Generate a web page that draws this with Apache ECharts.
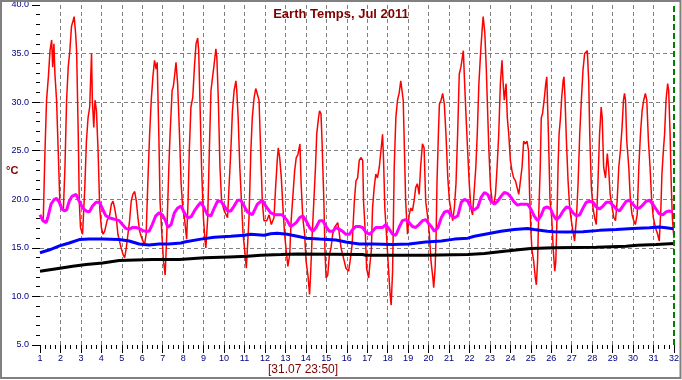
<!DOCTYPE html>
<html>
<head>
<meta charset="utf-8">
<script src="https://cdn.jsdelivr.net/npm/echarts@6/dist/echarts.min.js"></script>
<style>
html,body{margin:0;padding:0;background:#fff;}
#chart{width:682px;height:380px;}
</style>
</head>
<body>
<div id="chart"></div>
<script>
// ---- data (day of month, °C) ----
const titleText = "Earth Temps, Jul 2011";
const yUnit = "°C";
const xNote = "[31.07 23:50]";

const redTemps = [
[1.00,18.4],[1.16,17.9],[1.24,24.7],[1.32,30.2],[1.41,32.6],[1.49,35.3],[1.57,36.4],[1.62,33.6],[1.68,36.0],[1.73,32.9],[1.81,30.2],[1.89,25.0],[1.97,19.8],[2.06,19.1],[2.14,18.8],
[2.22,23.3],[2.30,30.2],[2.38,33.6],[2.46,35.3],[2.54,37.8],[2.62,38.4],[2.67,38.8],[2.74,37.1],[2.79,35.3],[2.87,26.7],[2.92,19.8],[2.98,17.1],[3.08,16.4],
[3.19,21.2],[3.27,26.0],[3.35,28.4],[3.43,29.5],[3.52,35.0],[3.56,30.2],[3.63,27.4],[3.69,30.2],[3.76,29.1],[3.84,25.0],[3.92,19.1],[4.00,17.1],[4.08,16.4],
[4.16,16.7],[4.28,17.8],[4.41,18.4],[4.49,19.5],[4.57,19.8],[4.65,19.1],[4.73,18.1],[4.81,16.4],[4.93,15.3],[5.06,14.3],[5.14,14.0],[5.22,15.0],[5.30,16.4],
[5.38,17.8],[5.46,19.8],[5.54,20.5],[5.63,20.8],[5.71,19.8],[5.79,18.1],[5.87,16.7],[5.98,16.0],[6.11,15.3],
[6.19,16.4],[6.27,21.6],[6.36,26.7],[6.44,30.2],[6.52,32.6],[6.60,34.3],[6.68,33.4],[6.73,34.1],[6.81,26.7],[6.87,19.8],[6.96,16.4],[7.04,13.6],[7.12,12.2],
[7.20,16.4],[7.30,23.3],[7.36,26.7],[7.46,31.2],[7.52,31.6],[7.59,32.9],[7.65,34.1],[7.73,31.9],[7.82,26.7],[7.90,21.6],[7.98,19.1],[8.06,18.1],[8.17,15.9],
[8.24,19.8],[8.30,25.0],[8.38,29.5],[8.47,30.5],[8.55,33.6],[8.63,36.0],[8.71,36.6],[8.76,35.3],[8.82,30.2],[8.90,23.3],[8.99,18.1],[9.07,15.7],[9.11,15.0],
[9.20,18.1],[9.28,25.0],[9.36,31.2],[9.44,32.6],[9.52,34.0],[9.60,35.5],[9.65,34.5],[9.72,30.2],[9.80,23.3],[9.88,19.8],[10.01,18.8],[10.17,18.1],
[10.25,21.6],[10.33,25.0],[10.41,29.1],[10.49,31.2],[10.58,32.2],[10.62,31.2],[10.69,28.4],[10.77,23.3],[10.85,19.8],[10.93,16.4],[11.03,14.3],[11.09,12.9],
[11.22,18.1],[11.31,25.0],[11.38,28.4],[11.47,30.5],[11.55,31.4],[11.63,31.4],[11.71,30.2],[11.79,25.0],[11.87,19.8],[11.95,17.8],
[12.09,17.8],[12.20,18.4],[12.31,17.4],[12.44,18.1],[12.52,21.2],[12.60,24.0],[12.65,25.3],[12.72,24.3],[12.80,22.2],[12.88,19.1],[12.96,16.4],[13.04,14.7],[13.12,13.1],
[13.21,14.3],[13.28,17.8],[13.37,20.5],[13.45,22.9],[13.53,24.3],[13.61,24.6],[13.71,25.7],[13.77,21.5],[13.85,18.1],[13.94,16.4],[14.01,13.6],[14.10,12.2],[14.18,10.2],
[14.23,12.2],[14.31,16.4],[14.39,19.8],[14.47,23.3],[14.53,26.7],[14.62,28.4],[14.67,29.1],[14.74,28.8],[14.79,26.0],[14.88,19.8],[14.94,14.3],[14.99,11.9],
[15.07,12.2],[15.15,14.3],[15.23,15.0],[15.31,16.4],[15.40,17.1],[15.48,17.2],[15.56,17.6],[15.64,16.4],[15.72,15.0],[15.80,14.3],[15.96,12.9],[16.09,12.6],
[16.16,13.6],[16.26,15.3],[16.37,19.8],[16.45,21.9],[16.53,22.2],[16.61,24.0],[16.69,24.3],[16.78,24.0],[16.82,19.8],[16.91,16.4],[16.97,12.9],[17.07,11.9],
[17.13,13.3],[17.20,14.7],[17.26,19.1],[17.34,21.2],[17.42,22.6],[17.50,22.2],[17.59,23.3],[17.67,25.0],[17.75,26.7],[17.80,24.0],[17.86,19.1],[17.94,16.4],[18.04,12.9],[18.12,10.2],[18.17,9.1],
[18.24,12.6],[18.27,16.4],[18.32,23.3],[18.40,28.4],[18.48,30.2],[18.56,30.9],[18.64,32.2],[18.69,32.4],[18.76,30.2],[18.82,25.0],[18.88,19.8],[18.97,16.4],
[19.05,18.4],[19.13,19.1],[19.21,18.8],[19.29,19.8],[19.37,21.2],[19.45,21.6],[19.54,20.5],[19.61,23.3],[19.70,25.7],[19.78,25.3],[19.86,19.8],[19.96,18.1],
[20.04,16.4],[20.12,13.6],[20.21,11.9],[20.25,10.9],[20.32,12.9],[20.37,16.4],[20.41,21.6],[20.48,26.7],[20.53,29.8],[20.61,30.2],[20.69,30.9],[20.77,29.8],[20.85,26.7],[20.94,22.2],[21.02,19.8],[21.10,18.8],[21.18,17.8],
[21.26,19.1],[21.34,21.6],[21.42,26.7],[21.50,32.9],[21.58,33.6],[21.63,34.3],[21.70,35.3],[21.75,32.6],[21.82,29.1],[21.91,25.0],[21.99,21.6],[22.07,19.1],[22.15,18.4],[22.23,18.4],
[22.31,23.3],[22.38,26.7],[22.46,31.9],[22.55,35.3],[22.63,37.8],[22.67,38.8],[22.75,37.1],[22.82,33.6],[22.87,30.2],[22.95,25.0],[23.03,21.2],[23.11,19.8],[23.19,19.5],
[23.27,20.5],[23.35,23.3],[23.43,26.7],[23.51,31.9],[23.59,34.3],[23.64,32.2],[23.70,30.2],[23.79,31.9],[23.85,28.4],[23.92,26.7],[24.00,24.0],[24.08,22.9],[24.16,22.2],[24.25,21.9],[24.33,21.2],[24.41,20.5],
[24.49,21.9],[24.57,23.3],[24.65,26.0],[24.73,25.7],[24.81,26.0],[24.89,25.0],[24.94,20.5],[25.01,16.4],[25.06,14.7],[25.14,13.6],[25.22,11.9],[25.27,11.2],[25.33,13.6],
[25.38,18.1],[25.46,23.3],[25.51,28.4],[25.57,28.8],[25.65,30.2],[25.73,31.9],[25.78,32.6],[25.86,26.7],[25.94,19.8],[26.02,18.1],[26.10,14.7],
[26.17,12.6],[26.22,13.6],[26.28,18.1],[26.33,23.3],[26.38,26.7],[26.45,28.4],[26.51,30.5],[26.58,32.2],[26.62,32.6],[26.67,30.5],[26.74,26.0],[26.82,21.9],[26.90,19.1],[26.98,17.8],[27.06,16.7],[27.14,15.7],
[27.23,18.1],[27.31,21.6],[27.39,26.7],[27.47,30.2],[27.55,33.3],[27.63,35.0],[27.71,35.2],[27.76,35.3],[27.83,32.2],[27.88,26.7],[27.96,21.2],[28.04,19.1],[28.12,18.1],[28.20,17.4],
[28.28,21.6],[28.36,26.7],[28.44,29.5],[28.49,28.4],[28.56,23.3],[28.65,22.2],[28.74,24.7],[28.80,23.3],[28.88,20.5],[28.98,19.1],[29.06,18.1],[29.14,17.8],
[29.22,19.8],[29.30,23.3],[29.38,25.0],[29.46,27.4],[29.53,30.2],[29.58,30.9],[29.63,30.2],[29.69,26.0],[29.79,23.3],[29.87,19.8],[29.95,18.4],[30.03,17.8],[30.11,17.4],
[30.20,18.4],[30.28,23.3],[30.36,26.7],[30.44,29.1],[30.52,30.2],[30.60,30.9],[30.67,30.2],[30.75,26.0],[30.83,23.3],[30.91,19.8],[30.99,18.1],[31.09,17.1],[31.20,16.4],[31.28,15.7],
[31.36,19.1],[31.41,22.6],[31.48,25.0],[31.54,26.7],[31.61,30.2],[31.69,31.9],[31.74,31.2],[31.81,26.7],[31.87,21.2],[31.92,18.1],[31.97,16.7],[32.00,16.0]
];

const magentaTemps = [
[1.00,18.4],[1.14,17.8],[1.30,17.6],[1.38,18.1],[1.54,19.5],[1.70,20.0],[1.81,20.1],[1.94,19.7],[2.07,19.0],[2.19,18.8],[2.30,18.9],[2.43,19.8],[2.56,20.3],[2.76,20.5],[2.92,19.8],[3.09,19.1],[3.25,18.8],[3.41,18.7],[3.57,19.3],[3.74,19.7],[3.90,19.7],[4.06,19.0],[4.22,18.3],[4.38,18.1],[4.55,18.0],[4.71,17.9],[4.87,17.8],[5.03,17.4],[5.20,17.0],[5.36,16.9],[5.52,17.1],[5.68,17.1],[5.85,17.0],[6.01,16.8],[6.17,16.7],[6.33,16.7],[6.49,17.4],[6.66,18.3],[6.82,18.6],[6.98,18.4],[7.14,17.8],[7.25,17.1],[7.41,17.4],[7.57,18.6],[7.73,19.1],[7.90,19.3],[8.06,18.6],[8.22,18.1],[8.39,18.2],[8.55,18.8],[8.71,19.3],[8.87,19.7],[9.03,19.1],[9.19,18.4],[9.36,18.3],[9.52,19.1],[9.68,19.8],[9.85,19.8],[10.01,19.3],[10.17,18.8],[10.33,18.8],[10.49,19.3],[10.66,19.9],[10.82,19.9],[10.98,19.3],[11.14,18.7],[11.38,18.4],[11.63,19.5],[11.87,19.9],[12.04,19.3],[12.28,18.6],[12.52,18.4],[12.85,18.4],[13.09,17.8],[13.25,17.2],[13.41,17.4],[13.53,17.6],[13.69,18.1],[13.85,18.3],[14.01,17.8],[14.18,17.1],[14.34,16.7],[14.50,17.1],[14.67,17.8],[14.83,17.8],[14.99,17.2],[15.15,16.7],[15.31,16.7],[15.47,17.1],[15.64,16.9],[15.80,16.7],[15.96,16.4],[16.13,16.4],[16.29,16.9],[16.45,17.2],[16.61,17.2],[16.77,17.1],[16.94,16.6],[17.10,16.4],[17.26,16.7],[17.42,17.1],[17.59,17.1],[17.75,17.1],[17.91,17.4],[18.08,16.9],[18.24,16.4],[18.40,16.3],[18.56,17.1],[18.72,17.8],[18.88,17.9],[19.05,17.6],[19.21,17.2],[19.37,17.1],[19.53,17.4],[19.70,17.8],[19.86,17.9],[19.97,17.6],[20.13,17.2],[20.29,16.7],[20.46,17.1],[20.62,18.1],[20.78,18.7],[20.95,18.8],[21.11,18.3],[21.27,18.1],[21.43,18.3],[21.60,19.7],[21.76,20.0],[21.92,19.8],[22.08,19.1],[22.24,18.9],[22.41,19.2],[22.57,20.2],[22.73,20.7],[22.89,20.5],[23.05,19.8],[23.22,19.5],[23.38,19.8],[23.54,20.3],[23.70,20.7],[23.86,20.6],[24.03,20.2],[24.19,19.7],[24.35,19.4],[24.51,19.5],[24.68,19.5],[24.84,19.5],[25.00,19.0],[25.16,18.3],[25.33,17.8],[25.49,18.3],[25.65,19.1],[25.81,19.2],[25.97,19.0],[26.09,18.4],[26.25,17.9],[26.41,18.2],[26.58,18.8],[26.74,19.2],[26.90,19.1],[27.06,18.6],[27.23,18.3],[27.39,18.4],[27.55,19.1],[27.71,19.7],[27.88,19.8],[28.04,19.7],[28.20,19.2],[28.36,19.0],[28.53,19.3],[28.69,19.7],[28.85,19.7],[29.01,19.4],[29.18,19.0],[29.34,18.8],[29.50,19.3],[29.66,19.8],[29.82,19.9],[29.99,19.5],[30.15,19.1],[30.31,19.1],[30.47,19.4],[30.64,19.8],[30.80,19.9],[30.96,19.5],[31.12,19.0],[31.28,18.5],[31.45,18.4],[31.61,18.7],[31.77,18.8],[31.94,18.7]
];

const blueTemps = [
[1.00,14.5],[1.47,14.8],[1.95,15.2],[2.43,15.5],[2.92,15.85],[3.41,15.9],[4.06,15.9],[4.87,15.85],[5.36,15.7],[5.85,15.4],[6.33,15.3],[6.82,15.4],[7.30,15.4],[7.90,15.5],[8.06,15.6],[8.87,15.9],[9.52,16.1],[10.33,16.2],[10.98,16.3],[11.30,16.4],[11.95,16.3],[12.28,16.45],[12.60,16.5],[13.09,16.4],[13.58,16.2],[14.01,16.0],[14.67,15.9],[15.47,15.8],[15.96,15.6],[16.61,15.4],[17.26,15.4],[18.24,15.35],[19.05,15.4],[19.86,15.6],[20.62,15.7],[21.27,15.9],[21.92,16.0],[22.24,16.2],[22.89,16.45],[23.54,16.7],[24.19,16.9],[24.84,17.0],[25.16,16.9],[25.81,16.7],[26.14,16.66],[26.74,16.62],[27.55,16.66],[28.36,16.8],[29.18,16.9],[29.99,17.0],[30.80,17.07],[31.28,17.14],[31.61,17.07],[31.97,16.97]
];

const blackTemps = [
[1.00,12.6],[1.81,12.86],[2.60,13.1],[3.25,13.28],[4.06,13.45],[4.87,13.69],[5.68,13.76],[6.49,13.79],[7.82,13.79],[9.03,13.97],[10.25,14.07],[11.14,14.14],[11.79,14.24],[12.77,14.31],[13.58,14.38],[16.77,14.31],[16.94,14.24],[19.86,14.24],[21.92,14.31],[22.73,14.41],[23.70,14.66],[24.51,14.83],[25.00,14.93],[26.14,15.0],[28.20,15.07],[29.66,15.17],[30.21,15.28],[31.12,15.34],[32.00,15.45]
];

const xRange = [1, 32];
const yRange = [5, 40];

// ---- chart ----
const chart = echarts.init(document.getElementById('chart'), null, {renderer: 'canvas'});
const navy = '#000080';
const darkRed = '#800000';
const gridDash = {color: '#808080', type: [4, 3], width: 1};

function line(name, data, color, width) {
  return {
    name: name, type: 'line', data: data, showSymbol: false, symbol: 'none',
    lineStyle: {color: color, width: width}, itemStyle: {color: color},
    animation: false, silent: true, z: 2
  };
}

const redSeries = line('Air', redTemps, '#ff0000', 1.5);
redSeries.markLine = {
  silent: true, symbol: ['none', 'none'], label: {show: false},
  lineStyle: {color: '#008000', type: [6, 3], width: 2},
  data: [{xAxis: xRange[1]}], animation: false
};

chart.setOption({
  backgroundColor: '#ffffff',
  animation: false,
  title: {
    text: titleText, left: 'center', top: 3,
    textStyle: {
      color: darkRed, fontSize: 13, fontWeight: 'bold',
      fontFamily: 'Liberation Sans, Arial, sans-serif',
      textShadowColor: '#c8a050', textShadowOffsetX: 1, textShadowOffsetY: 1, textShadowBlur: 0
    }
  },
  grid: {left: 40, right: 5, top: 5, bottom: 35, containLabel: false},
  xAxis: {
    type: 'value', min: xRange[0], max: xRange[1], interval: 1,
    axisLine: {show: false},
    axisTick: {show: true, length: 8, lineStyle: {color: '#000', width: 1}},
    minorTick: {show: true, splitNumber: 4, length: 4, lineStyle: {color: '#000', width: 1}},
    axisLabel: {color: navy, fontSize: 9, margin: 9, fontFamily: 'Liberation Sans, Arial, sans-serif'},
    splitLine: {show: true, showMinLine: false, showMaxLine: false, lineStyle: gridDash},
    minorSplitLine: {show: false}
  },
  yAxis: {
    type: 'value', min: yRange[0], max: yRange[1], interval: 5,
    axisLine: {show: false},
    axisTick: {show: true, length: 8, lineStyle: {color: '#000', width: 1}},
    minorTick: {show: true, splitNumber: 5, length: 4, lineStyle: {color: '#000', width: 1}},
    axisLabel: {color: navy, fontSize: 9, margin: 11, fontFamily: 'Liberation Sans, Arial, sans-serif',
      formatter: v => v.toFixed(1)},
    splitLine: {show: true, showMinLine: false, showMaxLine: false, lineStyle: gridDash},
    minorSplitLine: {show: false}
  },
  graphic: [
    {type: 'rect', shape: {x: 1, y: 1, width: 679.5, height: 377}, style: {fill: 'none', stroke: '#808080', lineWidth: 2}, silent: true, z: 100},
    {type: 'text', left: 6, top: 165, style: {text: yUnit, fill: darkRed, font: 'bold 11px Liberation Sans, Arial, sans-serif'}, silent: true},
    {type: 'text', left: 268, top: 364, style: {text: xNote, fill: darkRed, font: '12px Liberation Sans, Arial, sans-serif'}, silent: true}
  ],
  series: [
    redSeries,
    line('Surface', magentaTemps, '#ff00ff', 3),
    line('Depth 1', blueTemps, '#0000ff', 3),
    line('Depth 2', blackTemps, '#000000', 3)
  ]
});
</script>
</body>
</html>
